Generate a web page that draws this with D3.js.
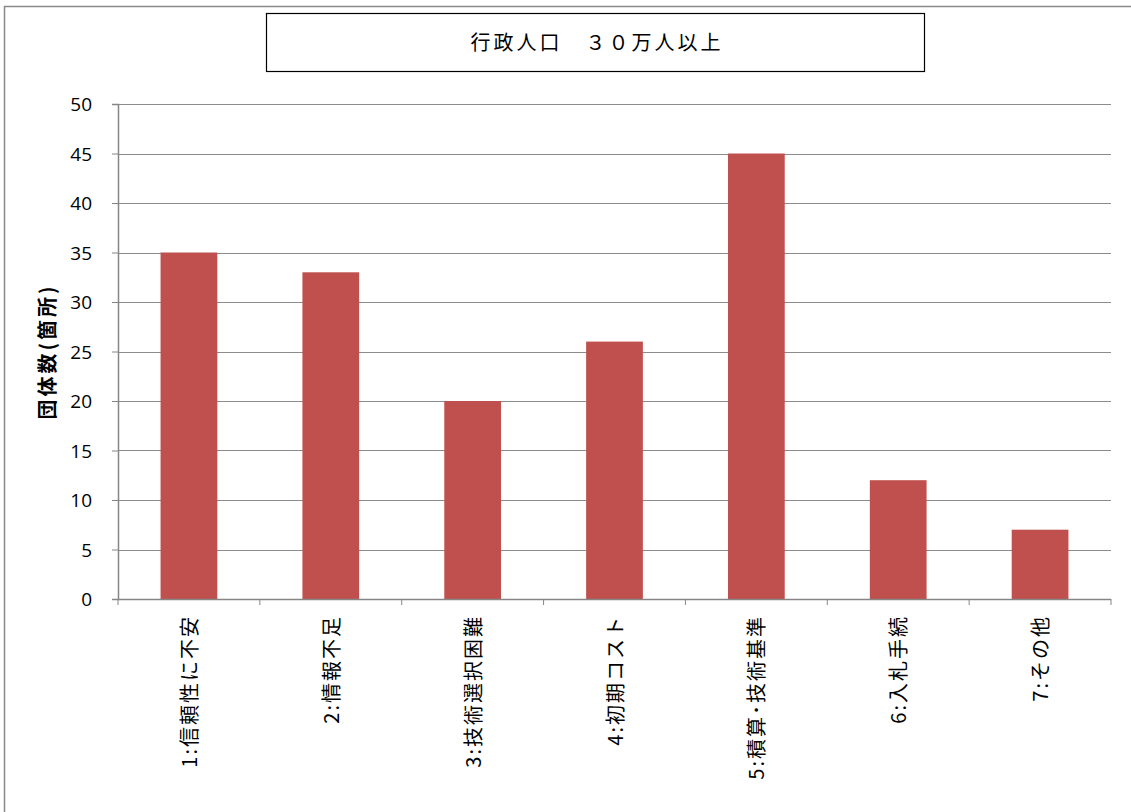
<!DOCTYPE html>
<html>
<head>
<meta charset="utf-8">
<script src="https://cdn.jsdelivr.net/npm/d3@7"></script>
<style>
  body { margin: 0; background: #fff; }
  text { font-family: "Noto Sans CJK JP", "Noto Sans", sans-serif; }
</style>
</head>
<body>
<svg id="chart" width="1131" height="812"></svg>
<script>
// data
const categories = ['1:信頼性に不安', '2:情報不足', '3:技術選択困難', '4:初期コスト', '5:積算･技術基準', '6:入札手続', '7:その他'];
const counts = [35, 33, 20, 26, 45, 12, 7];
const yTicks = [0, 5, 10, 15, 20, 25, 30, 35, 40, 45, 50];
const titleText = '行政人口　３０万人以上';
const yLabel = '団体数(箇所)';

const svg = d3.select('#chart');
const plot = { left: 118, right: 1111, top: 104, bottom: 599 };

// outer chart frame (runs off the right and bottom edges)
svg.append('rect')
  .attr('x', 4.5).attr('y', 6.5).attr('width', 1140).attr('height', 820)
  .attr('fill', 'none').attr('stroke', '#8a8a8a').attr('stroke-width', 1.5);

// title box
svg.append('rect')
  .attr('x', 266.5).attr('y', 13.5).attr('width', 658).attr('height', 58)
  .attr('fill', '#fff').attr('stroke', '#000').attr('stroke-width', 1.2);
svg.append('text')
  .attr('x', 597).attr('y', 50)
  .attr('text-anchor', 'middle')
  .style('font-size', '20px')
  .style('letter-spacing', '3px')
  .text(titleText);

const x = d3.scaleBand()
  .domain(categories)
  .range([plot.left, plot.right])
  .paddingInner(0.6)
  .paddingOuter(0.3);

const y = d3.scaleLinear()
  .domain([0, 50])
  .range([plot.bottom, plot.top]);

// gridlines
svg.append('g')
  .selectAll('line')
  .data(yTicks.filter(d => d > 0))
  .enter().append('line')
  .attr('x1', plot.left).attr('x2', plot.right)
  .attr('y1', d => Math.round(y(d)) + 0.5).attr('y2', d => Math.round(y(d)) + 0.5)
  .attr('stroke', '#8c8c8c').attr('stroke-width', 1.2);

// bars
svg.append('g')
  .selectAll('rect')
  .data(counts)
  .enter().append('rect')
  .attr('x', (d, i) => x(categories[i]))
  .attr('y', d => y(d))
  .attr('width', x.bandwidth())
  .attr('height', d => y(0) - y(d))
  .attr('fill', '#c0504d');

// y axis
const yAxis = svg.append('g')
  .attr('transform', 'translate(' + plot.left + ',0)')
  .call(d3.axisLeft(y).tickValues(yTicks).tickSize(6).tickPadding(20));
yAxis.selectAll('text').style('font-size', '19px').attr('fill', '#000')
  .attr('dy', '0.35em')
  .style('font-family', '"Open Sans", "Noto Sans", sans-serif');
yAxis.selectAll('line').attr('stroke', '#868686');
yAxis.select('.domain').attr('stroke', '#868686').attr('stroke-width', 1.5);

// x axis (ticks at category boundaries)
const xAxisG = svg.append('g');
xAxisG.append('line')
  .attr('x1', plot.left).attr('x2', plot.right)
  .attr('y1', plot.bottom + 0.5).attr('y2', plot.bottom + 0.5)
  .attr('stroke', '#868686').attr('stroke-width', 1.5);
const step = x.step();
xAxisG.selectAll('line.tick')
  .data(d3.range(categories.length + 1))
  .enter().append('line')
  .attr('class', 'tick')
  .attr('x1', i => plot.left + i * step).attr('x2', i => plot.left + i * step)
  .attr('y1', plot.bottom).attr('y2', plot.bottom + 6)
  .attr('stroke', '#868686');

xAxisG.selectAll('text')
  .data(categories)
  .enter().append('text')
  .attr('transform', d => 'translate(' + (x(d) + x.bandwidth() / 2 + 8) + ',' + (plot.bottom + 16) + ') rotate(-90)')
  .attr('text-anchor', 'end')
  .style('font-size', '20px')
  .style('letter-spacing', '2px')
  .text(d => d);

// y axis title
svg.append('text')
  .attr('transform', 'translate(55,' + ((plot.top + plot.bottom) / 2) + ') rotate(-90)')
  .attr('text-anchor', 'middle')
  .style('font-size', '20px')
  .style('font-weight', 'bold')
  .style('letter-spacing', '3px')
  .text(yLabel);
</script>
</body>
</html>
